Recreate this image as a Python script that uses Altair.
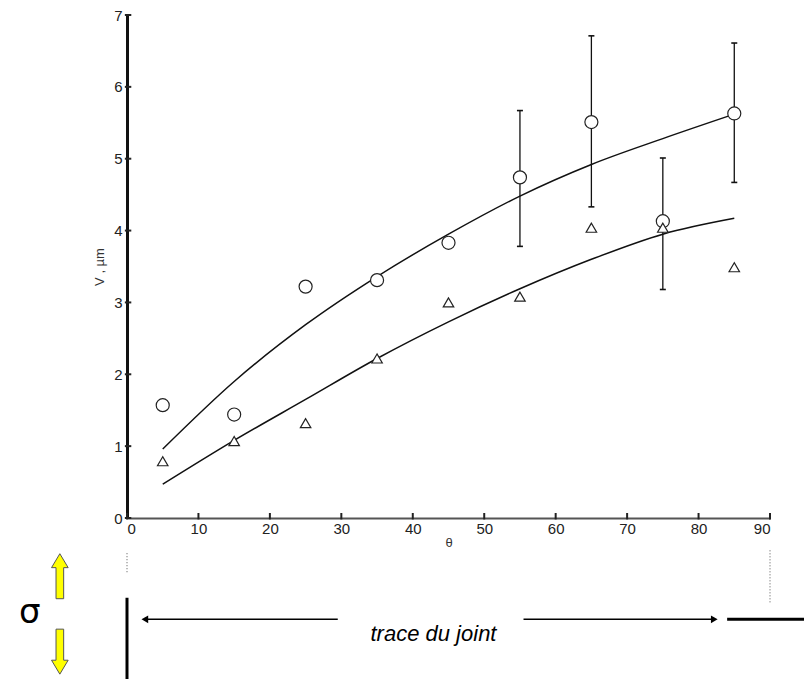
import altair as alt
import pandas as pd

# ---- data ----
theta = [5, 15, 25, 35, 45, 55, 65, 75, 85]
v_circle = [1.57, 1.44, 3.22, 3.31, 3.83, 4.74, 5.51, 4.13, 5.63]
v_triangle = [0.79, 1.07, 1.32, 2.22, 3.00, 3.08, 4.04, 4.04, 3.49]

err_theta = [55, 65, 75, 85]
err_low = [3.78, 4.33, 3.18, 4.67]
err_high = [5.67, 6.71, 5.01, 6.61]

fit_upper = [0.96, 1.90, 2.69, 3.36, 3.95, 4.48, 4.92, 5.28, 5.62]
fit_lower = [0.47, 1.08, 1.65, 2.22, 2.73, 3.19, 3.60, 3.95, 4.17]

x_ticks = [0, 10, 20, 30, 40, 50, 60, 70, 80, 90]
y_ticks = [0, 1, 2, 3, 4, 5, 6, 7]

# annotation diagram below the plot (in data units of the same scales)
diagram_label = "trace du joint"
sigma_label = "σ"

FONT = "Liberation Sans"

xs = alt.Scale(domain=[0, 90], nice=False, zero=False)
ys = alt.Scale(domain=[0, 7], nice=False, zero=False)
ax_x = alt.Axis(values=x_ticks, title="θ", tickSize=0, labelPadding=3, domainColor="#555",
                domainWidth=2, grid=False, titlePadding=0)
ax_y = alt.Axis(values=y_ticks, title="V ,  µm", tickSize=0, labelPadding=5, domainColor="#111",
                domainWidth=3, grid=False, titlePadding=7)


def X(f):
    return alt.X(f, type="quantitative", scale=xs, axis=ax_x)


def Y(f):
    return alt.Y(f, type="quantitative", scale=ys, axis=ax_y)


pts = pd.DataFrame({"theta": theta, "c": v_circle, "t": v_triangle,
                    "fu": fit_upper, "fl": fit_lower})
err = pd.DataFrame({"theta": err_theta, "lo": err_low, "hi": err_high})

xt = pd.DataFrame({"x": x_ticks, "y0": [-0.02] * len(x_ticks), "y1": [0.07] * len(x_ticks)})
yt = pd.DataFrame({"y": y_ticks, "x0": [-0.3] * len(y_ticks), "x1": [0.6] * len(y_ticks)})

line_upper = alt.Chart(pts).mark_line(color="#111", strokeWidth=1.5, interpolate="monotone").encode(
    x=X("theta"), y=Y("fu"))
line_lower = alt.Chart(pts).mark_line(color="#111", strokeWidth=1.5, interpolate="monotone").encode(
    x=X("theta"), y=Y("fl"))

err_rule = alt.Chart(err).mark_rule(color="#111", strokeWidth=1.3).encode(
    x=X("theta"), y=Y("lo"), y2="hi")
cap_path = "M-1,0L1,0"
cap_lo = alt.Chart(err).mark_point(shape=cap_path, size=36, filled=False, color="#111",
                                   strokeWidth=1.6, opacity=1).encode(x=X("theta"), y=Y("lo"))
cap_hi = alt.Chart(err).mark_point(shape=cap_path, size=36, filled=False, color="#111",
                                   strokeWidth=1.6, opacity=1).encode(x=X("theta"), y=Y("hi"))

circles = alt.Chart(pts).mark_point(shape="circle", size=170, filled=True, fill="white",
                                    stroke="#222", strokeWidth=1.2, opacity=1).encode(
    x=X("theta"), y=Y("c"))
triangles = alt.Chart(pts).mark_point(shape="triangle-up", size=110, filled=True, fill="white",
                                      stroke="#222", strokeWidth=1.2, opacity=1).encode(
    x=X("theta"), y=Y("t"))

xtick_layer = alt.Chart(xt).mark_rule(color="#222", strokeWidth=2).encode(
    x=X("x"), y=Y("y0"), y2="y1")
ytick_layer = alt.Chart(yt).mark_rule(color="#222", strokeWidth=2).encode(
    y=Y("y"), x=X("x0"), x2="x1")

# ---- diagram below the chart ----
vlines = pd.DataFrame({"x": [0], "y0": [-1.11], "y1": [-2.6]})
vline = alt.Chart(vlines).mark_rule(color="black", strokeWidth=3).encode(
    x=X("x"), y=Y("y0"), y2="y1")

dots = pd.DataFrame({"x": [0, 90], "y0": [-0.49, -0.45], "y1": [-0.76, -1.2]})
dotted = alt.Chart(dots).mark_rule(color="#555", strokeWidth=1, strokeDash=[1, 2]).encode(
    x=X("x"), y=Y("y0"), y2="y1")

segs = pd.DataFrame({"x0": [2.5, 55.5], "x1": [29.5, 82.0], "y": [-1.41, -1.41]})
arrow_lines = alt.Chart(segs).mark_rule(color="black", strokeWidth=1.5).encode(
    x=X("x0"), x2="x1", y=Y("y"))

heads = pd.DataFrame({"x": [2.5, 82.2], "y": [-1.41, -1.41],
                      "shape": ["triangle-left", "triangle-right"]})
arrow_heads = alt.Chart(heads).mark_point(filled=True, color="black", size=60, opacity=1).encode(
    x=X("x"), y=Y("y"), shape=alt.Shape("shape:N", scale=None, legend=None))

right_line = pd.DataFrame({"x0": [84.0], "x1": [97.0], "y": [-1.41]})
right_seg = alt.Chart(right_line).mark_rule(color="black", strokeWidth=3).encode(
    x=X("x0"), x2="x1", y=Y("y"))

txt = pd.DataFrame({"x": [42.9], "y": [-1.62], "label": [diagram_label]})
trace_text = alt.Chart(txt).mark_text(font=FONT, fontSize=22, fontStyle="italic",
                                      color="black", align="center", baseline="middle").encode(
    x=X("x"), y=Y("y"), text="label:N")

sig = pd.DataFrame({"x": [-13.6], "y": [-1.32], "label": [sigma_label]})
sigma_text = alt.Chart(sig).mark_text(font="DejaVu Sans", fontSize=34, color="black",
                                      align="center", baseline="middle").encode(
    x=X("x"), y=Y("y"), text="label:N")

up_path = "M-0.17,1L0.17,1L0.17,-0.38L0.37,-0.38L0,-1L-0.37,-0.38L-0.17,-0.38Z"
down_path = "M-0.17,-1L0.17,-1L0.17,0.38L0.37,0.38L0,1L-0.37,0.38L-0.17,0.38Z"
ya = pd.DataFrame({"x": [-9.4], "yu": [-0.81], "yd": [-1.86]})
arrow_up = alt.Chart(ya).mark_point(shape=up_path, size=2025, filled=True, fill="#FFFF00",
                                    stroke="#555", strokeWidth=1, opacity=1).encode(
    x=X("x"), y=Y("yu"))
arrow_down = alt.Chart(ya).mark_point(shape=down_path, size=2025, filled=True, fill="#FFFF00",
                                      stroke="#555", strokeWidth=1, opacity=1).encode(
    x=X("x"), y=Y("yd"))

chart = alt.layer(
    xtick_layer, ytick_layer, line_upper, line_lower, err_rule, cap_lo, cap_hi,
    circles, triangles, vline, dotted, arrow_lines, arrow_heads, right_seg,
    trace_text, sigma_text, arrow_up, arrow_down
).properties(
    width=643, height=503,
    background="white",
    padding={"left": 119, "top": 7, "right": 34, "bottom": 161},
    autosize=alt.AutoSizeParams(type="none"),
).configure_view(
    stroke=None
).configure_axis(
    labelFont=FONT, labelFontSize=15, labelColor="#222",
    titleFont=FONT, titleFontSize=13, titleFontWeight="normal", titleColor="#333"
)

chart.save("out.html", embed_options={"renderer": "svg", "actions": False})
